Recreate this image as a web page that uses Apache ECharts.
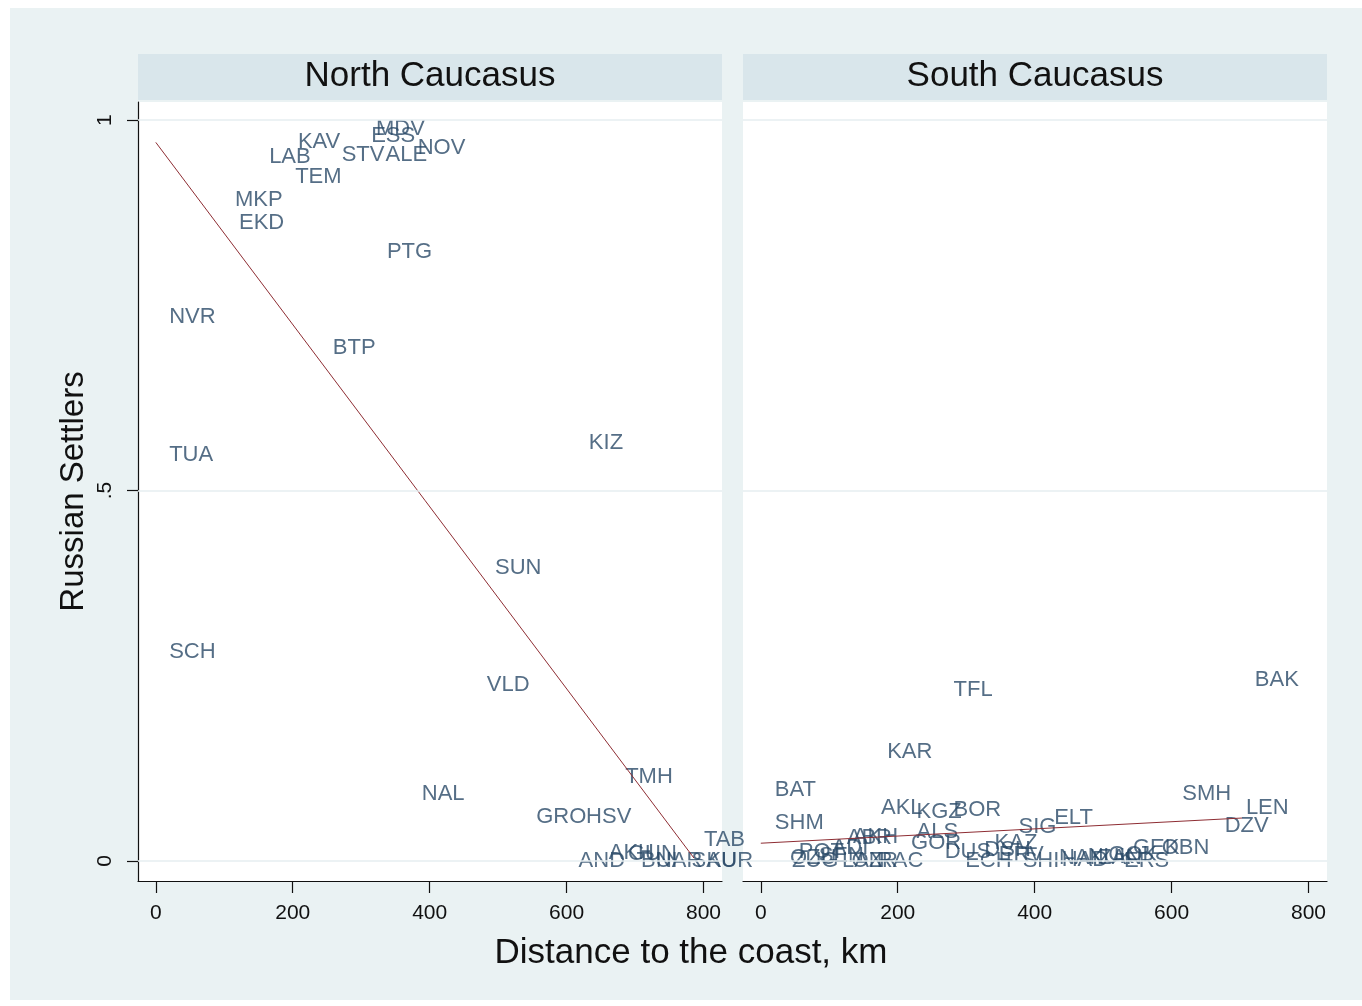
<!DOCTYPE html>
<html>
<head>
<meta charset="utf-8">
<title>Russian Settlers and distance to the coast</title>
<script src="https://cdn.jsdelivr.net/npm/echarts@6/dist/echarts.min.js"></script>
<style>
  html, body { margin: 0; padding: 0; background: #ffffff; }
  #chart { width: 1362px; height: 1006px; }
</style>
</head>
<body>
<div id="chart"></div>
<script>
// ---- Data: district codes, distance to the coast (km), share of Russian settlers ----
const northCodes    = ['NVR','TUA','SCH','MKP','EKD','LAB','KAV','TEM','STV','ALE','NOV','MDV','ESS','PTG','BTP','KIZ','SUN','VLD','NAL','GRO','HSV','TMH','TAB','AND','AKH','GUN','BUI','NAR','SAU','KUR'];
const northDistance = [2, 2, 2, 98, 104, 148, 190, 186, 254, 318, 365, 304, 297, 320, 241, 615, 478, 466, 371, 538, 611, 668, 783, 600, 644, 672, 691, 713, 765, 787];
const northShare    = [0.734, 0.548, 0.282, 0.892, 0.861, 0.950, 0.970, 0.923, 0.953, 0.953, 0.962, 0.988, 0.979, 0.822, 0.692, 0.564, 0.395, 0.238, 0.090, 0.059, 0.059, 0.113, 0.028, 0.000, 0.011, 0.009, 0.000, 0.000, 0.000, 0.000];

const southCodes    = ['BAK','TFL','KAR','BAT','SHM','SMH','LEN','DZV','ELT','SIG','AKL','KGZ','BOR','ALS','GOR','KAZ','OZU','ZUG','POT','SEN','ADI','ABR','AKH','LAN','OZR','RAC','DUS','ECH','DSH','ERV','SHI','NAK','HAD','NUK','ZAN','GOK','GEK','OBN','ERS'];
const southDistance = [704, 264, 167, 3, 3, 598, 691, 660, 411, 359, 158, 210, 264, 210, 202, 324, 25, 28, 38, 67, 86, 108, 117, 101, 115, 152, 251, 281, 309, 330, 365, 418, 422, 460, 475, 490, 526, 568, 513];
const southShare    = [0.244, 0.231, 0.147, 0.096, 0.051, 0.090, 0.072, 0.047, 0.058, 0.046, 0.072, 0.066, 0.069, 0.039, 0.024, 0.024, 0.004, 0.000, 0.012, 0.007, 0.018, 0.031, 0.032, 0.000, 0.000, 0.000, 0.012, 0.000, 0.015, 0.008, 0.000, 0.004, 0.002, 0.006, 0.004, 0.008, 0.018, 0.018, 0.000];

// Linear fit lines, end points over each panel's distance range
const northFitX = [0, 786];
const northFitY = [0.970, 0.004];
const southFitX = [0, 703];
const southFitY = [0.024, 0.058];

// Axis ticks
const xTicks = [0, 200, 400, 600, 800];
const yTicks = [0, 0.5, 1];
const panelTitles = ['North Caucasus', 'South Caucasus'];

// ---- Chart ----
const FONT = '"Liberation Sans", Arial, sans-serif';
const LABEL_COLOR = '#2a4a68';
const FIT_COLOR = '#8e2d33';
const GRID_LINE = '#e6eef1';

const panels = [
  { left: 138, top: 102, width: 584, height: 779 },
  { left: 743, top: 102, width: 584, height: 779 }
];

function pairs(xs, ys) { return xs.map((x, i) => [x, ys[i]]); }
function labelled(codes, xs, ys) { return codes.map((c, i) => ({ name: c, value: [xs[i], ys[i]] })); }

function xAxisFor(i) {
  return {
    type: 'value', gridIndex: i, min: -26, max: 827,
    axisLine: { show: true, onZero: false, lineStyle: { color: '#111', width: 1.2 } },
    axisTick: { show: true, length: 12, customValues: xTicks, lineStyle: { color: '#111', width: 1.2 } },
    axisLabel: { customValues: xTicks, fontFamily: FONT, fontSize: 21, color: '#111', margin: 22 },
    splitLine: { show: false }
  };
}

function labelSeries(i, data) {
  return {
    type: 'scatter', xAxisIndex: i, yAxisIndex: i,
    symbolSize: 0, itemStyle: { color: 'rgba(0,0,0,0)' },
    data: data,
    label: {
      show: true, position: 'right', distance: 12,
      formatter: p => p.name,
      fontFamily: FONT, fontSize: 22, color: LABEL_COLOR
    },
    emphasis: { disabled: true },
    markLine: {
      silent: true, symbol: 'none', animation: false,
      label: { show: false },
      lineStyle: { color: GRID_LINE, width: 1.5, type: 'solid' },
      data: yTicks.map(v => ({ yAxis: v }))
    },
    z: 3
  };
}

function fitSeries(i, xs, ys) {
  return {
    type: 'line', xAxisIndex: i, yAxisIndex: i,
    data: pairs(xs, ys), symbol: 'none', silent: true,
    lineStyle: { color: FIT_COLOR, width: 1 },
    z: 4
  };
}

const graphic = [
  // white frame round the light background
  { type: 'rect', shape: { x: 0, y: 0, width: 1362, height: 8 }, style: { fill: '#ffffff' }, z: 0 },
  { type: 'rect', shape: { x: 0, y: 0, width: 10, height: 1006 }, style: { fill: '#ffffff' }, z: 0 },
  { type: 'rect', shape: { x: 0, y: 1000, width: 1362, height: 6 }, style: { fill: '#ffffff' }, z: 0 }
];
panels.forEach((p, i) => {
  graphic.push({ type: 'rect', shape: { x: p.left, y: 54, width: p.width, height: 46 }, style: { fill: '#d9e6eb' }, z: 1 });
  graphic.push({ type: 'text', x: p.left + p.width / 2, y: 76, z: 2,
    style: { text: panelTitles[i], fill: '#111', font: '35px ' + FONT, textAlign: 'center', textVerticalAlign: 'middle' } });
});
graphic.push({ type: 'text', x: 691, y: 953, z: 2,
  style: { text: 'Distance to the coast, km', fill: '#111', font: '35px ' + FONT, textAlign: 'center', textVerticalAlign: 'middle' } });

const option = {
  backgroundColor: '#eaf2f3',
  animation: false,
  graphic: graphic,
  grid: panels.map(p => Object.assign({ show: true, backgroundColor: '#ffffff', borderWidth: 0 }, p)),
  xAxis: [xAxisFor(0), xAxisFor(1)],
  yAxis: [
    {
      type: 'value', gridIndex: 0, min: -0.027, max: 1.0245,
      name: 'Russian Settlers', nameLocation: 'middle', nameGap: 48,
      nameTextStyle: { fontFamily: FONT, fontSize: 33, color: '#111' },
      axisLine: { show: true, onZero: false, lineStyle: { color: '#111', width: 1.2 } },
      axisTick: { show: true, length: 11, customValues: yTicks, lineStyle: { color: '#111', width: 1.2 } },
      axisLabel: { customValues: yTicks, rotate: 90, fontFamily: FONT, fontSize: 21, color: '#111', margin: 22,
        formatter: v => (v === 0.5 ? '.5' : String(v)) },
      splitLine: { show: false }
    },
    {
      type: 'value', gridIndex: 1, min: -0.027, max: 1.0245,
      axisLine: { show: false }, axisTick: { show: false }, axisLabel: { show: false }, splitLine: { show: false }
    }
  ],
  series: [
    labelSeries(0, labelled(northCodes, northDistance, northShare)),
    labelSeries(1, labelled(southCodes, southDistance, southShare)),
    fitSeries(0, northFitX, northFitY),
    fitSeries(1, southFitX, southFitY)
  ]
};

const chart = echarts.init(document.getElementById('chart'), null, { renderer: 'canvas' });
chart.setOption(option);
</script>
</body>
</html>
